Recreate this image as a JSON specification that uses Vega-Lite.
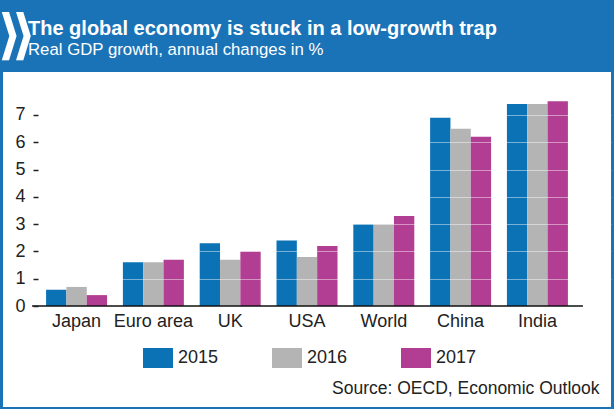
{
  "$schema": "https://vega.github.io/schema/vega-lite/v6.json",
  "autosize": {"type": "none"},
  "width": 608,
  "height": 335,
  "padding": {"left": 3, "top": 72, "right": 3, "bottom": 2},
  "background": "#1b73b7",
  "config": {"view": {"fill": "white", "stroke": null}, "font": "Liberation Sans"},
  "title": {
    "text": "The global economy is stuck in a low-growth trap",
    "subtitle": "Real GDP growth, annual changes in %",
    "anchor": "start",
    "frame": "group",
    "dx": 25,
    "offset": -50,
    "color": "white",
    "subtitleColor": "white",
    "font": "Liberation Sans",
    "fontSize": 20,
    "fontWeight": "bold",
    "subtitleFont": "Liberation Sans",
    "subtitleFontSize": 16.8,
    "subtitlePadding": 3
  },
  "layer": [
    {
      "data": {"values": [
        {"country": "Japan", "year": "2015", "growth": 0.6},
        {"country": "Japan", "year": "2016", "growth": 0.7},
        {"country": "Japan", "year": "2017", "growth": 0.4},
        {"country": "Euro area", "year": "2015", "growth": 1.6},
        {"country": "Euro area", "year": "2016", "growth": 1.6},
        {"country": "Euro area", "year": "2017", "growth": 1.7},
        {"country": "UK", "year": "2015", "growth": 2.3},
        {"country": "UK", "year": "2016", "growth": 1.7},
        {"country": "UK", "year": "2017", "growth": 2.0},
        {"country": "USA", "year": "2015", "growth": 2.4},
        {"country": "USA", "year": "2016", "growth": 1.8},
        {"country": "USA", "year": "2017", "growth": 2.2},
        {"country": "World", "year": "2015", "growth": 3.0},
        {"country": "World", "year": "2016", "growth": 3.0},
        {"country": "World", "year": "2017", "growth": 3.3},
        {"country": "China", "year": "2015", "growth": 6.9},
        {"country": "China", "year": "2016", "growth": 6.5},
        {"country": "China", "year": "2017", "growth": 6.2},
        {"country": "India", "year": "2015", "growth": 7.4},
        {"country": "India", "year": "2016", "growth": 7.4},
        {"country": "India", "year": "2017", "growth": 7.5}
      ]},
      "mark": {"type": "bar"},
      "encoding": {
        "x": {
          "field": "country", "type": "nominal",
          "scale": {"domain": ["Japan", "Euro area", "UK", "USA", "World", "China", "India"], "paddingInner": 0.206, "paddingOuter": 0.561},
          "axis": {
            "orient": "bottom", "offset": -101, "domain": false, "ticks": false,
            "labelPadding": 6, "labelFontSize": 18, "labelColor": "#222", "labelAngle": 0,
            "title": "Source: OECD, Economic Outlook",
            "titleX": 596, "titleY": 87, "titleAlign": "right", "titleAnchor": "end",
            "titleBaseline": "alphabetic", "titleFontSize": 17.5, "titleFontWeight": "normal",
            "titleColor": "#222", "zindex": 2
          }
        },
        "xOffset": {"field": "year", "type": "nominal", "scale": {"paddingInner": 0, "paddingOuter": 0}},
        "y": {
          "field": "growth", "type": "quantitative",
          "scale": {"domain": [-3.7, 8.575], "nice": false, "zero": false},
          "axis": {
            "offset": -35, "values": [0, 1, 2, 3, 4, 5, 6, 7], "domain": false,
            "tickSize": 5, "tickColor": "#222", "tickWidth": 1.5,
            "labelPadding": 8, "labelFontSize": 18, "labelColor": "#222",
            "grid": true, "gridColor": "white", "gridWidth": 1,
            "gridOpacity": {"condition": {"test": "datum.value == 0", "value": 0}, "value": 0.45},
            "zindex": 1,
            "title": "⟫", "titleAngle": 0, "titleX": -41, "titleY": -36,
            "titleAlign": "left", "titleBaseline": "middle",
            "titleFont": "DejaVu Sans", "titleFontSize": 54, "titleFontWeight": "bold",
            "titleColor": "white"
          }
        },
        "color": {
          "field": "year", "type": "nominal",
          "scale": {"domain": ["2015", "2016", "2017"], "range": ["#0b72b6", "#b4b4b4", "#b13e92"]},
          "legend": {
            "orient": "none", "legendX": 145, "legendY": 276, "direction": "horizontal",
            "title": null, "symbolType": "M-1.5,-1H1.5V1H-1.5Z", "symbolSize": 400,
            "symbolStrokeWidth": 0, "symbolOpacity": 1, "labelFontSize": 18, "labelColor": "#222",
            "labelOffset": 10, "columnPadding": 53
          }
        }
      }
    },
    {
      "data": {"values": [{"from": "Japan", "to": "India", "base": 0}]},
      "mark": {"type": "rule", "color": "#111", "strokeWidth": 1.5, "xOffset": -14, "x2Offset": 15},
      "encoding": {
        "x": {"field": "from", "type": "nominal", "bandPosition": 0},
        "x2": {"field": "to", "bandPosition": 1},
        "y": {"field": "base", "type": "quantitative"}
      }
    }
  ]
}
